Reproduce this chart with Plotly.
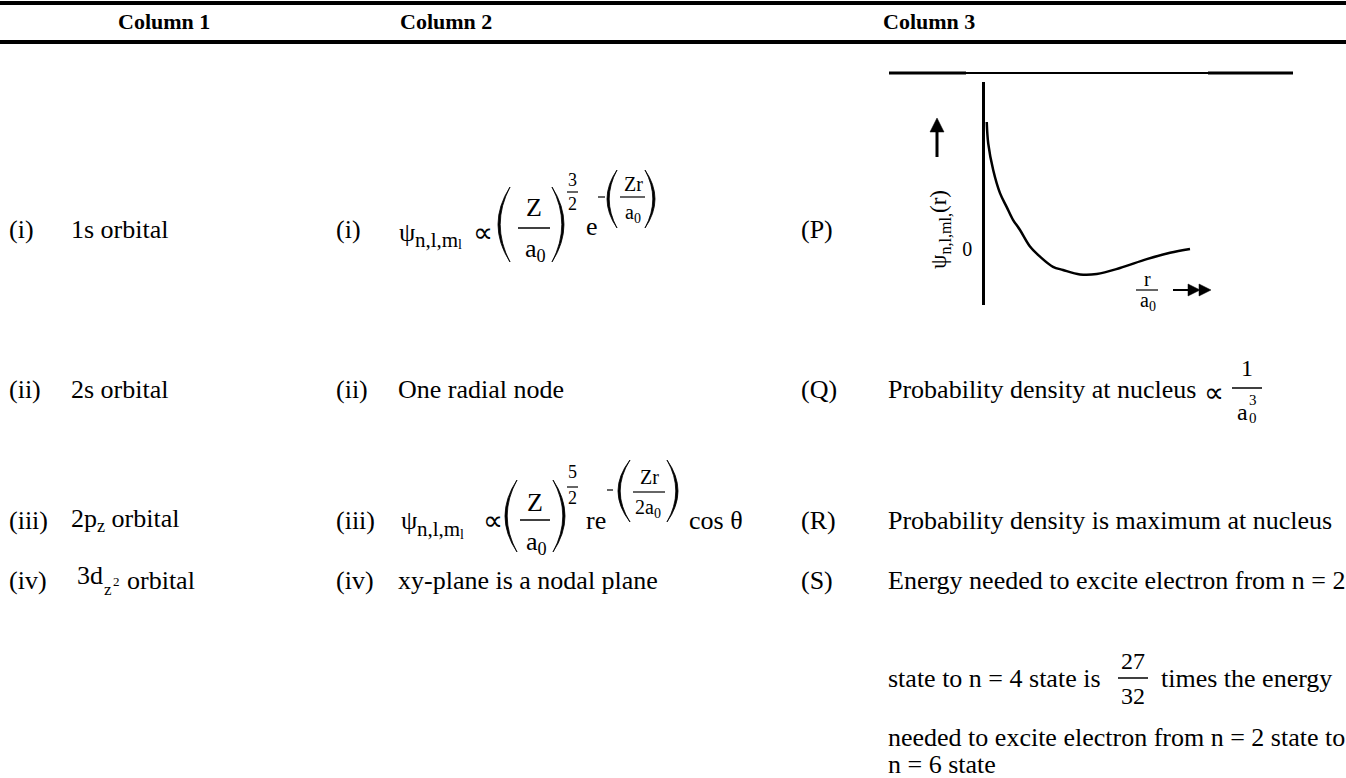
import plotly.graph_objects as go

W, H = 1346, 778
FONT = "Liberation Serif"

# ---------------- data ----------------
column_headers = ["Column 1", "Column 2", "Column 3"]
col1_labels = ["(i)", "(ii)", "(iii)", "(iv)"]
col1_items = ["1s orbital", "2s orbital", "2p<sub>z</sub> orbital", "orbital"]
col2_labels = ["(i)", "(ii)", "(iii)", "(iv)"]
col2_items = ["", "One radial node", "", "xy-plane is a nodal plane"]
col3_labels = ["(P)", "(Q)", "(R)", "(S)"]
col3_items = ["", "Probability density at nucleus", "Probability density is maximum at nucleus",
              "Energy needed to excite electron from n = 2"]
s_lines = ["state to n = 4 state is", "times the energy",
           "needed to excite electron from n = 2 state to", "n = 6 state"]

# curve in (P): psi vs r/a0
r_over_a0 = [0.07, 0.13, 0.33, 0.6, 0.87, 1.12, 1.4, 1.8, 2.2, 2.72, 3.12, 3.8, 4.47, 5.4, 6.47, 7.4, 8.2]
psi_values = [1.00, 0.83, 0.62, 0.44, 0.33, 0.23, 0.15, 0.02, -0.06, -0.14, -0.165, -0.20, -0.197,
              -0.15, -0.08, -0.03, 0.0]

# ---------------- helpers ----------------
def X(px):
    return px / W

def Y(py):
    return 1 - py / H

annotations = []
shapes = []

def txt(x, y, s, size=26, xanchor="left", yanchor="middle", bold=False, angle=0):
    if bold:
        s = "<b>" + s + "</b>"
    annotations.append(dict(x=X(x), y=Y(y), xref="paper", yref="paper", text=s, showarrow=False,
                            xanchor=xanchor, yanchor=yanchor, textangle=angle, borderpad=0,
                            font=dict(family=FONT, size=size, color="black")))

def hline(x0, x1, y, w=1.5):
    shapes.append(dict(type="line", xref="paper", yref="paper", x0=X(x0), x1=X(x1), y0=Y(y), y1=Y(y),
                       line=dict(color="black", width=w)))

def vline(x, y0, y1, w=1.5):
    shapes.append(dict(type="line", xref="paper", yref="paper", x0=X(x), x1=X(x), y0=Y(y0), y1=Y(y1),
                       line=dict(color="black", width=w)))

def poly(pts):
    d = "M " + " L ".join(f"{X(a):.5f},{Y(b):.5f}" for a, b in pts) + " Z"
    shapes.append(dict(type="path", xref="paper", yref="paper", path=d, fillcolor="black",
                       line=dict(color="black", width=0.5)))

def paren(x0, x1, yt, yb, side="left", th=2.2):
    ym = (yt + yb) / 2
    if side == "left":
        tip, bul = x1, x0
        c_out = 2 * bul - tip
        c_in = 2 * (bul + th) - tip
    else:
        tip, bul = x0, x1
        c_out = 2 * bul - tip
        c_in = 2 * (bul - th) - tip
    d = (f"M {X(tip):.5f},{Y(yt):.5f} Q {X(c_out):.5f},{Y(ym):.5f} {X(tip):.5f},{Y(yb):.5f} "
         f"Q {X(c_in):.5f},{Y(ym):.5f} {X(tip):.5f},{Y(yt):.5f} Z")
    shapes.append(dict(type="path", xref="paper", yref="paper", path=d, fillcolor="black",
                       line=dict(color="black", width=0.8)))

# ---------------- table frame ----------------
hline(0, W, 3, 4)
hline(0, W, 42, 4)
txt(117, 22, column_headers[0], size=22, bold=True)
txt(399, 22, column_headers[1], size=22, bold=True)
txt(882, 22, column_headers[2], size=22, bold=True)

row_y = [230, 390, 520, 580]

# column 1
for lab, item, y in zip(col1_labels, col1_items, row_y):
    txt(8, y, lab)
    if lab != "(iv)":
        txt(70, y, item)
txt(76, row_y[3] - 5, "3d")
txt(103, row_y[3] + 9, "z", size=17)
txt(112, row_y[3] + 1, "2", size=13)
txt(126, row_y[3], col1_items[3])

# column 2
for lab, item, y in zip(col2_labels, col2_items, row_y):
    txt(335, y, lab)
    if item:
        txt(397, y, item)

# formula (i)
yi = row_y[0]
txt(398, yi + 2, "ψ")
txt(414, yi + 10, "n,l,m", size=21)
txt(457, yi + 15, "l", size=14)
txt(472, yi + 2, "∝", size=28)
paren(498, 510, 187, 262, "left")
txt(534, 208, "Z", xanchor="center")
hline(518, 550, 228, 1.5)
txt(535, 250, "a<sub>0</sub>", xanchor="center")
paren(552, 564, 187, 262, "right")
txt(572, 180, "3", size=18, xanchor="center")
hline(567, 578, 192, 1.2)
txt(572, 204, "2", size=18, xanchor="center")
txt(585, 226, "e")
hline(598, 605, 197, 1.2)
paren(607, 617, 170, 228, "left")
txt(633, 184, "Zr", size=20, xanchor="center")
hline(620, 645, 197, 1.2)
txt(633, 213, "a<sub>0</sub>", size=20, xanchor="center")
paren(645, 655, 170, 228, "right")

# formula (iii)
y3 = row_y[2]
txt(400, y3, "ψ")
txt(416, y3 + 9, "n,l,m", size=21)
txt(459, y3 + 14, "l", size=14)
txt(482, y3, "∝", size=28)
paren(505, 517, 480, 552, "left")
txt(535, 502, "Z", xanchor="center")
hline(520, 550, 520, 1.5)
txt(536, 543, "a<sub>0</sub>", xanchor="center")
paren(553, 565, 480, 552, "right")
txt(572, 472, "5", size=18, xanchor="center")
hline(567, 578, 487, 1.2)
txt(572, 498, "2", size=18, xanchor="center")
txt(585, y3, "re")
hline(607, 613, 490, 1.2)
paren(618, 630, 460, 522, "left")
txt(649, 477, "Zr", size=20, xanchor="center")
hline(633, 665, 492, 1.2)
txt(648, 508, "2a<sub>0</sub>", size=20, xanchor="center")
paren(667, 678, 460, 522, "right")
txt(688, y3, "cos θ")

# column 3
for lab, item, y in zip(col3_labels, col3_items, row_y):
    txt(800, y, lab)
    if item:
        txt(887, y, item)
# Q fraction
txt(1203, 392, "∝", size=28)
txt(1247, 368, "1", size=24, xanchor="center")
hline(1232, 1262, 388, 1.5)
txt(1242, 412, "a", size=24, xanchor="center")
txt(1253, 400, "3", size=15, xanchor="center")
txt(1253, 418, "0", size=15, xanchor="center")

# S continuation
txt(887, 678, s_lines[0])
txt(1133, 661, "27", size=24, xanchor="center")
hline(1118, 1148, 678, 1.5)
txt(1133, 696, "32", size=24, xanchor="center")
txt(1160, 678, s_lines[1])
txt(887, 737, s_lines[2])
txt(887, 764, s_lines[3])

# ---------------- inset plot (P) ----------------
hline(889, 1293, 73, 2)
hline(889, 966, 73, 3)
hline(1208, 1293, 73, 3)
# up arrow
vline(937, 157, 130, 3)
poly([(930, 132), (944, 132), (937, 118)])
# y label
txt(940, 230, "ψ<sub>n,l,ml,</sub>(r)", size=23, xanchor="center", angle=-90)
# x label r/a0 with double arrow
txt(1147, 279, "r", size=20, xanchor="center")
hline(1136, 1158, 290, 1.2)
txt(1148, 301, "a<sub>0</sub>", size=20, xanchor="center")
hline(1173, 1198, 290, 2)
poly([(1188, 284), (1188, 296), (1200, 290)])
poly([(1199, 284), (1199, 296), (1211, 290)])

fig = go.Figure()
fig.add_trace(go.Scatter(x=r_over_a0, y=psi_values, mode="lines",
                         line=dict(color="black", width=2.5, shape="spline"),
                         hoverinfo="skip", showlegend=False))

fig.update_layout(
    width=W, height=H,
    margin=dict(l=0, r=0, t=0, b=0),
    paper_bgcolor="white", plot_bgcolor="rgba(0,0,0,0)",
    xaxis=dict(domain=[X(985), X(1235)], range=[0, 10], visible=False, fixedrange=True),
    yaxis=dict(domain=[Y(305), Y(82)], range=[(249 - 305) / 127, (249 - 82) / 127],
               showline=True, linecolor="black", linewidth=2.5, showgrid=False, zeroline=False,
               tickvals=[0], ticktext=["0"], ticks="", ticklabelstandoff=6,
               tickfont=dict(family=FONT, size=20, color="black"), fixedrange=True),
    annotations=annotations,
    shapes=shapes,
    showlegend=False,
)

fig.write_html("out.html", config={"displayModeBar": False},
               post_script="document.body.style.margin='0';document.body.style.overflow='hidden';")
